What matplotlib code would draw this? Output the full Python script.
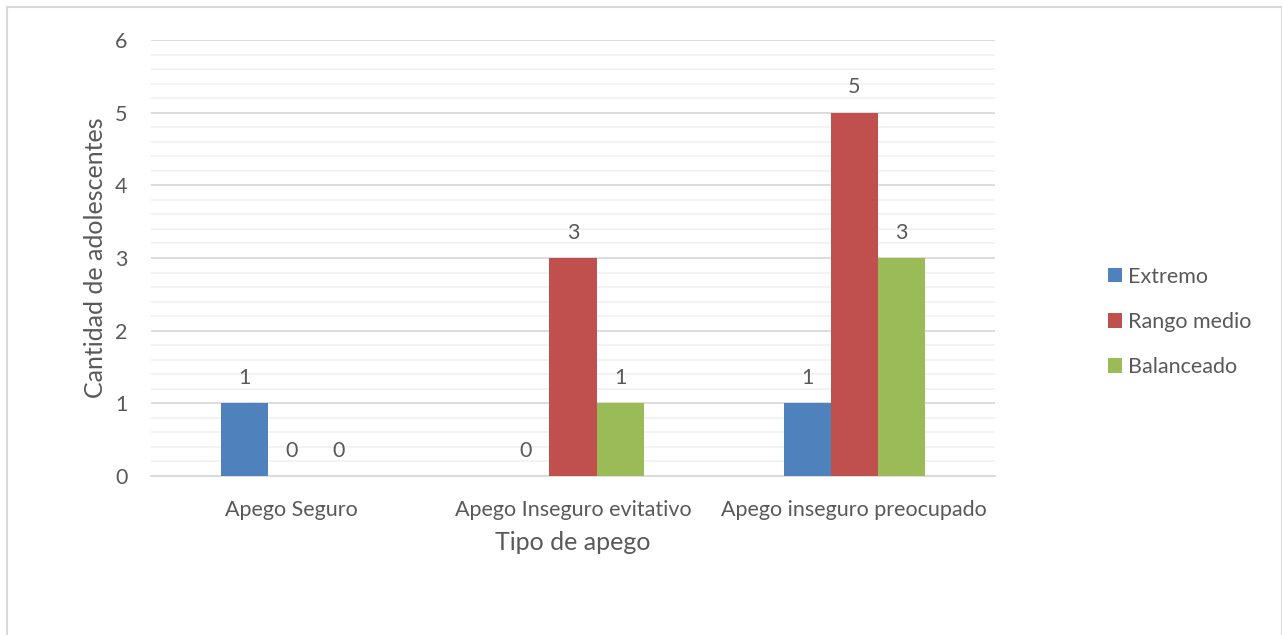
import matplotlib
matplotlib.use("Agg")
import matplotlib.pyplot as plt
from matplotlib.patches import Rectangle
import numpy as np

plt.rcParams['font.family'] = ['Lato', 'DejaVu Sans']

categories = ["Apego Seguro", "Apego Inseguro evitativo", "Apego inseguro preocupado"]
series_names = ["Extremo", "Rango medio", "Balanceado"]
extremo = [1, 0, 1]
rango_medio = [0, 3, 5]
balanceado = [0, 1, 3]
y_ticks = [0, 1, 2, 3, 4, 5, 6]

colors = ["#4f81bd", "#c0504d", "#9bbb59"]
text_color = "#595959"

W, H = 1282, 635
fig = plt.figure(figsize=(W / 100, H / 100), dpi=100)
ax = fig.add_axes([151 / W, 1 - 476 / H, (995 - 151) / W, (476 - 40) / H])

x = np.arange(len(categories))
bw = 47 / 281.3
series = [extremo, rango_medio, balanceado]
for i, (vals, name, c) in enumerate(zip(series, series_names, colors)):
    pos = x + (i - 1) * bw
    ax.bar(pos, vals, width=bw, color=c, label=name, zorder=3)
    for p, v in zip(pos, vals):
        ax.annotate(str(v), (p, v), xytext=(0, 11), textcoords="offset points",
                    ha="center", va="bottom", fontsize=15.5, color=text_color)

ax.set_xlim(-0.5, len(categories) - 0.5)
ax.set_ylim(0, 6)
ax.set_yticks(y_ticks)
ax.set_yticks(np.arange(0, 6.01, 0.2), minor=True)
ax.grid(axis="y", which="major", color="#d9d9d9", lw=1.3, zorder=0)
ax.grid(axis="y", which="minor", color="#f2f2f2", lw=1.3, zorder=0)
ax.tick_params(axis="both", which="both", length=0, labelsize=15.5, colors=text_color)
ax.tick_params(axis="y", pad=17)
ax.tick_params(axis="x", pad=17)
ax.set_xticks(x)
ax.set_xticklabels(categories)
for s in ["top", "right", "left"]:
    ax.spines[s].set_visible(False)
ax.spines["bottom"].set_color("#d9d9d9")
ax.spines["bottom"].set_linewidth(1.3)

ax.set_xlabel("Tipo de apego", fontsize=18, color=text_color, labelpad=8)
ax.set_ylabel("Cantidad de adolescentes", fontsize=18, color=text_color, labelpad=6)

ax.legend(loc="center left", bbox_to_anchor=(1108 / W, 1 - 322 / H),
          bbox_transform=fig.transFigure, frameon=False, fontsize=15.5,
          labelcolor=text_color, handlelength=0.65, handleheight=0.65,
          handletextpad=0.3, labelspacing=1.17, borderaxespad=0, borderpad=0)

fig.patches.append(Rectangle((7 / W, -0.01), 1 - 7.5 / W, 1 - 7 / H + 0.01,
                             transform=fig.transFigure, fill=False,
                             edgecolor="#d9d9d9", lw=1.5))

fig.savefig("out.png", dpi=100)
